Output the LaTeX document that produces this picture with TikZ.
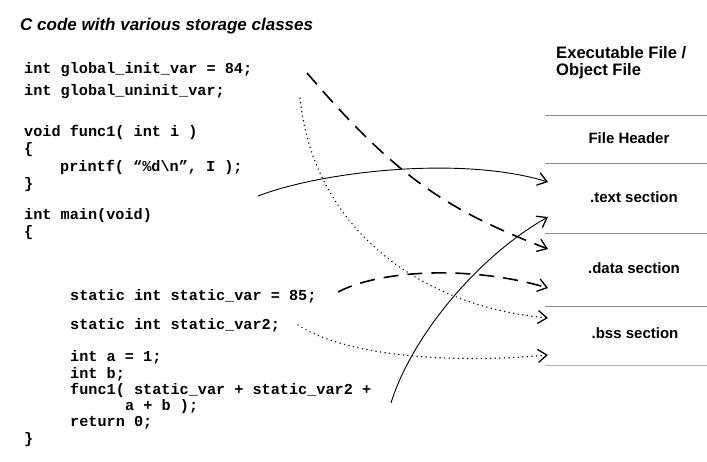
\documentclass[tikz,border=0pt]{standalone}
\usepackage{fontspec}
\setmainfont{Liberation Sans}
\newfontfamily\codefont{Liberation Mono}
\usetikzlibrary{arrows.meta}
\frenchspacing
\begin{document}
\begin{tikzpicture}[x=1pt,y=-1pt,
  code/.style={anchor=base west,inner sep=0pt,font=\codefont\bfseries\fontsize{15.2}{16}\selectfont},
  title/.style={anchor=base west,inner sep=0pt,font=\bfseries\itshape\fontsize{17}{19}\selectfont},
  sect/.style={anchor=base,inner sep=0pt,font=\bfseries\fontsize{15}{17}\selectfont},
  sep/.style={draw=black!45,line width=0.6pt},
  tip/.style={-{Straight Barb[length=9pt,width=13pt,line width=1.3pt]}},
  solidarrow/.style={tip,line width=0.9pt},
  dasharrow/.style={tip,line width=1.6pt,dash pattern=on 15pt off 9pt},
  dotarrow/.style={tip,line width=1.5pt,line cap=round,dash pattern=on 0.1pt off 4.5pt}]
\useasboundingbox (0,0) rectangle (707,462);

\node[title] (title) at (20,31) {C code with various storage classes};

\node[code] (l1) at (24,74) {int global\_init\_var = 84;};
\node[code] (l2) at (24,96) {int global\_uninit\_var;};
\node[code] (l3) at (24,137) {void func1( int i )};
\node[code] (l4) at (24,154) {\{};
\node[code] (l5) at (60,172) {printf( “\%d\textbackslash n”, I );};
\node[code] (l6) at (24,189) {\}};
\node[code] (l7) at (24,220) {int main(void)};
\node[code] (l8) at (24,237) {\{};
\node[code] (l9) at (70,301) {static int static\_var = 85;};
\node[code] (l10) at (70,330) {static int static\_var2;};
\node[code] (l11) at (70,362) {int a = 1;};
\node[code] (l12) at (70,378) {int b;};
\node[code] (l13) at (70,394) {func1( static\_var + static\_var2 +};
\node[code] (l14) at (125,410) {a + b );};
\node[code] (l15) at (70,426) {return 0;};
\node[code] (l16) at (24,443) {\}};

% right column
\node[anchor=base west,inner sep=0pt,font=\bfseries\fontsize{16.6}{17}\selectfont,align=left] (exe) at (556,75.5) {Executable File /\\Object File};
\draw[sep] (545,115.7) -- (707,115.7);
\node[sect] (hdr) at (629,144) {File Header};
\draw[sep] (545,163) -- (707,163);
\node[sect] (txt) at (634,203) {.text section};
\draw[sep] (545,233) -- (707,233);
\node[sect] (dat) at (634,274) {.data section};
\draw[sep] (545,306) -- (707,306);
\node[sect] (bss) at (635,339) {.bss section};
\draw[sep,draw=black!30] (545,365) -- (707,365);

% arrow endpoints
\coordinate (s1) at (258,196);
\coordinate (s2) at (307,73);
\coordinate (s3) at (300,98);
\coordinate (s4) at (338,292);
\coordinate (s5) at (298,325);
\coordinate (s6) at (391,403);
\coordinate (e1) at (548,182);
\coordinate (e2) at (548,217);
\coordinate (e3) at (548,249);
\coordinate (e4) at (548,288);
\coordinate (e5) at (548,318);
\coordinate (e6) at (548,355);

\draw[solidarrow] (s1) .. controls (320,172) and (460,155) .. (e1);
\draw[dasharrow] (s2) .. controls (397,178) and (447,210) .. (e3);
\draw[dotarrow] (s3) .. controls (312,220) and (410,305) .. (e5);
\draw[dasharrow] (s4) .. controls (380,270) and (470,265) .. (e4);
\draw[dotarrow] (s5) .. controls (345,356) and (450,364) .. (e6);
\draw[solidarrow] (s6) .. controls (412,335) and (480,255) .. (e2);
\end{tikzpicture}
\end{document}
